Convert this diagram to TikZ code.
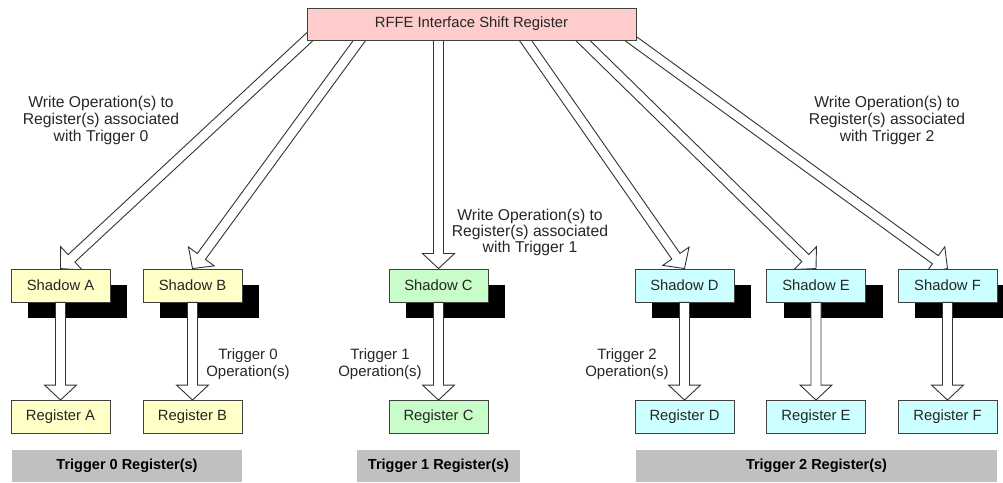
\documentclass[tikz,border=0pt]{standalone}
\usepackage{fontspec}
\setmainfont{Liberation Sans}
\usetikzlibrary{positioning,calc,shadows}
\definecolor{rffefill}{RGB}{255,204,204}
\definecolor{trigzero}{RGB}{255,255,200}
\definecolor{trigone}{RGB}{200,252,200}
\definecolor{trigtwo}{RGB}{204,255,255}
\definecolor{barfill}{RGB}{192,192,192}
\pgfdeclarelayer{bg}
\pgfsetlayers{bg,main}
% hollow block arrow from #1 to #2
\newcommand{\hollowarrow}[2]{%
  \draw[hollow] ($(#1)!5pt!90:(#2)$) -- ($(#2)!15pt!(#1)!5pt!90:(#2)$)
    -- ($(#2)!15pt!(#1)!16pt!90:(#2)$) -- (#2)
    -- ($(#2)!15pt!(#1)!16pt!-90:(#2)$) -- ($(#2)!15pt!(#1)!5pt!-90:(#2)$)
    -- ($(#1)!5pt!-90:(#2)$) -- cycle;}
\begin{document}
\begin{tikzpicture}[x=1pt, y=1pt, node distance=131.5pt,
    font=\fontsize{14.8}{17}\selectfont,
    box/.style={draw=black!75, line width=0.9pt, minimum width=99pt, minimum height=33pt, inner sep=0pt, text=black!85},
    shadowbox/.style={box, drop shadow={shadow xshift=17pt, shadow yshift=-16pt, fill=black, opacity=1}},
    bar/.style={fill=barfill, minimum height=32pt, inner sep=0pt, font=\fontsize{14.5}{17}\selectfont\bfseries},
    note/.style={align=center, text=black!85, font=\fontsize{15}{17}\selectfont},
    hollow/.style={draw=black!80, fill=white, line width=0.9pt}]
    \useasboundingbox (0,0) rectangle (1003,482);

    % Nodes
    \node (rffe) [box, fill=rffefill, minimum width=329pt, minimum height=32pt] at (471.5,458) {RFFE Interface Shift Register};
    \node (shA) [shadowbox, fill=trigzero] at (60.5,196.5) {Shadow A};
    \node (shB) [right of=shA, shadowbox, fill=trigzero, node distance=132pt] {Shadow B};
    \node (shC) [right of=shB, shadowbox, fill=trigone, node distance=246pt] {Shadow C};
    \node (shD) [right of=shC, shadowbox, fill=trigtwo, node distance=246pt] {Shadow D};
    \node (shE) [right of=shD, shadowbox, fill=trigtwo] {Shadow E};
    \node (shF) [right of=shE, shadowbox, fill=trigtwo] {Shadow F};
    \node (regA) [below of=shA, box, fill=trigzero] {Register A};
    \node (regB) [below of=shB, box, fill=trigzero] {Register B};
    \node (regC) [below of=shC, box, fill=trigone] {Register C};
    \node (regD) [below of=shD, box, fill=trigtwo] {Register D};
    \node (regE) [below of=shE, box, fill=trigtwo] {Register E};
    \node (regF) [below of=shF, box, fill=trigtwo] {Register F};

    % Trigger groups
    \node (barZero) [bar, minimum width=230pt] at (127,16) {Trigger 0 Register(s)};
    \node (barOne) [bar, minimum width=163pt] at (438.5,16) {Trigger 1 Register(s)};
    \node (barTwo) [bar, minimum width=361pt] at (816.5,16) {Trigger 2 Register(s)};

    % Labels
    \node (writeZero) [note, font=\fontsize{15.7}{17}\selectfont] at (101,362) {Write Operation(s) to\\Register(s) associated\\with Trigger 0};
    \node (writeOne) [note, font=\fontsize{15.7}{16}\selectfont] at (530,250) {Write Operation(s) to\\Register(s) associated\\with Trigger 1};
    \node (writeTwo) [note, font=\fontsize{15.7}{17}\selectfont] at (887,362) {Write Operation(s) to\\Register(s) associated\\with Trigger 2};
    \node (opZero) [note] at (248,118) {Trigger 0\\Operation(s)};
    \node (opOne) [note] at (380,118) {Trigger 1\\Operation(s)};
    \node (opTwo) [note] at (627,118) {Trigger 2\\Operation(s)};

    % Write arrows from the shift register
    \coordinate (srcA) at ($(rffe.center)+(-148,0)$);
    \coordinate (srcB) at ($(rffe.center)+(-100,0)$);
    \coordinate (srcC) at ($(rffe.center)+(-33,0)$);
    \coordinate (srcD) at ($(rffe.center)+(42.5,0)$);
    \coordinate (srcE) at ($(rffe.center)+(94.5,0)$);
    \coordinate (srcF) at ($(rffe.center)+(139,0)$);
    \begin{pgfonlayer}{bg}
    \hollowarrow{srcA}{shA.north}
    \hollowarrow{srcB}{shB.north}
    \hollowarrow{srcC}{shC.north}
    \hollowarrow{srcD}{shD.north}
    \hollowarrow{srcE}{shE.north}
    \hollowarrow{srcF}{shF.north}
    \end{pgfonlayer}

    % Trigger arrows from shadow to register
    \hollowarrow{shA.south}{regA.north}
    \hollowarrow{shB.south}{regB.north}
    \hollowarrow{shC.south}{regC.north}
    \hollowarrow{shD.south}{regD.north}
    \hollowarrow{shE.south}{regE.north}
    \hollowarrow{shF.south}{regF.north}

\end{tikzpicture}
\end{document}
